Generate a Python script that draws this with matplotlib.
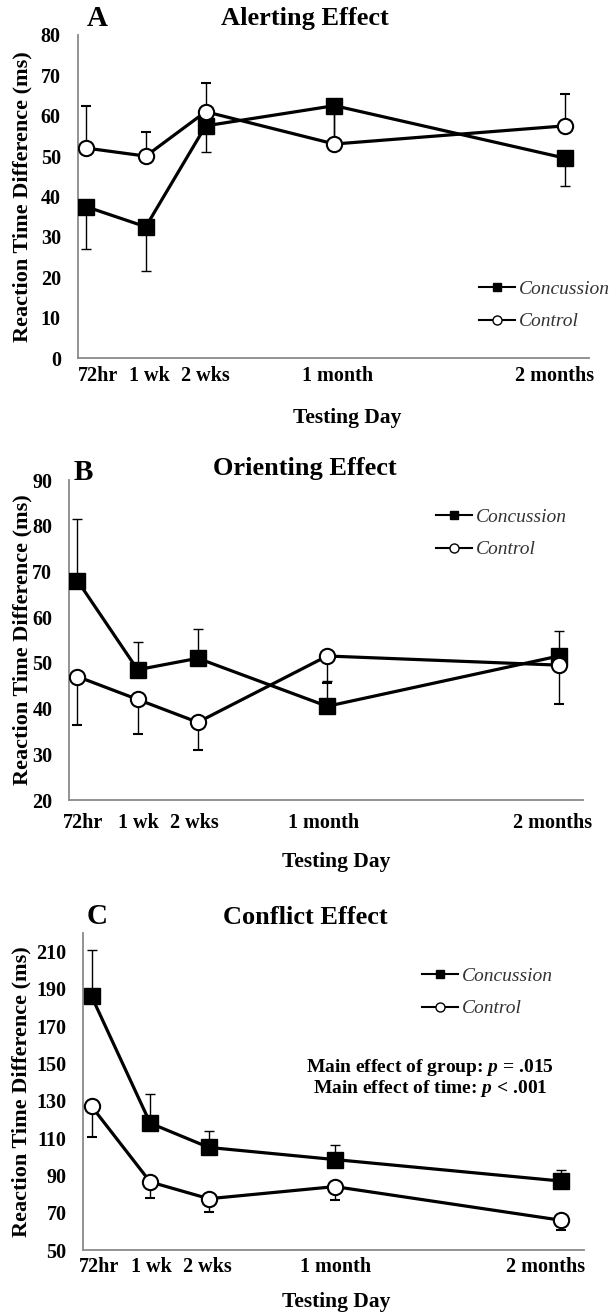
import matplotlib
matplotlib.use('Agg')
import matplotlib.pyplot as plt
import matplotlib.transforms as mtransforms
from matplotlib.lines import Line2D

plt.rcParams['font.family'] = ['Liberation Serif', 'DejaVu Serif']
plt.rcParams['font.weight'] = 'bold'
plt.rcParams['mathtext.fontset'] = 'custom'
plt.rcParams['mathtext.it'] = 'Liberation Serif:italic:bold'
plt.rcParams['mathtext.rm'] = 'Liberation Serif:bold'

# testing days, placed on the time axis roughly in weeks
days = ['72hr', '1 wk', '2 wks', '1 month', '2 months']
day_pos = [0, 1, 2, 4.15, 8]

# A - alerting effect (concussion bars go down, control bars go up)
alert_conc = [37.5, 32.5, 57.5, 62.5, 49.5]
alert_conc_err = [10.5, 11, 6.5, 8.5, 7]
alert_ctrl = [52, 50, 61, 53, 57.5]
alert_ctrl_err = [10.5, 6, 7, 8.5, 8]

# B - orienting effect (concussion bars go up, control bars go down)
orient_conc = [68, 48.5, 51, 40.5, 51.5]
orient_conc_err = [13.5, 6, 6.5, 5.5, 5.5]
orient_ctrl = [47, 42, 37, 51.5, 49.5]
orient_ctrl_err = [10.5, 7.5, 6, 6, 8.5]

# C - conflict effect (concussion bars go up, control bars go down)
conf_conc = [186, 118, 105, 98.5, 87]
conf_conc_err = [25, 15.5, 9, 8, 6]
conf_ctrl = [127, 86.5, 77.5, 84, 66]
conf_ctrl_err = [16.5, 8.5, 7, 7, 5.5]

W, H = 612, 1315
fig = plt.figure(figsize=(W / 100, H / 100), dpi=100)


def px_box(l, t, r, b):
    return [l / W, 1 - b / H, (r - l) / W, (b - t) / H]


def fx(x, y):
    return x / W, 1 - y / H


def panel(box, letter, title, conc, conc_err, ctrl, ctrl_err, conc_up,
          ylim, yticks, tick_pad, lab_nudge, leg_xy, xlab_xy, ylab_x,
          title_y, letter_xy):
    l, t, r, b = box
    ax = fig.add_axes(px_box(l, t, r, b))
    zeros = [0] * len(conc)
    c_yerr = [zeros, conc_err] if conc_up else [conc_err, zeros]
    k_yerr = [ctrl_err, zeros] if conc_up else [zeros, ctrl_err]
    ax.errorbar(day_pos, conc, yerr=c_yerr, color='black', lw=2.3,
                marker='s', ms=12, mfc='black', mec='black',
                ecolor='black', elinewidth=1, capsize=3.5, capthick=1,
                zorder=3)
    ax.errorbar(day_pos, ctrl, yerr=k_yerr, color='black', lw=2.3,
                marker='o', ms=11, mfc='white', mec='black', mew=1.5,
                ecolor='black', elinewidth=1, capsize=3.5, capthick=1,
                zorder=4)
    ax.set_xlim(-0.14, 8.4)
    ax.set_ylim(*ylim)
    ax.set_yticks(yticks)
    ax.set_xticks(day_pos)
    ax.set_xticklabels(days)
    for s in ['top', 'right']:
        ax.spines[s].set_visible(False)
    for s in ['left', 'bottom']:
        ax.spines[s].set_color('#8a8a8a')
        ax.spines[s].set_linewidth(1.3)
    ax.tick_params(axis='both', length=0, labelsize=14.5)
    ax.tick_params(axis='y', pad=12)
    ax.tick_params(axis='x', pad=tick_pad)
    for lab, dx in zip(ax.get_xticklabels(), lab_nudge):
        lab.set_transform(lab.get_transform() + mtransforms.ScaledTranslation(
            dx / 100, 0, fig.dpi_scale_trans))

    handles = [
        Line2D([], [], color='black', lw=1.5, marker='s', ms=6, mfc='black'),
        Line2D([], [], color='black', lw=1.5, marker='o', ms=6.5,
               mfc='white', mew=1),
    ]
    lx, ly = leg_xy
    ax.legend(handles, ['Concussion', 'Control'], loc='center left',
              bbox_to_anchor=((lx - l) / (r - l), (b - ly) / (b - t)),
              frameon=False, handlelength=1.85, handletextpad=0.2,
              labelspacing=0.75, borderpad=0, borderaxespad=0,
              prop=dict(family='Liberation Serif', style='italic',
                        weight='normal', size=14),
              labelcolor='#333333')

    fig.text(*fx(*xlab_xy), 'Testing Day', ha='center', va='center',
             fontsize=15.5)
    fig.text(*fx(ylab_x, (t + b) / 2), 'Reaction Time Difference (ms)',
             ha='center', va='center', rotation=90, fontsize=16)
    fig.text(*fx(305, title_y), title, ha='center', va='center', fontsize=19)
    fig.text(*fx(*letter_xy), letter, ha='center', va='center', fontsize=21)
    return ax


panel((77.5, 35, 589, 358), 'A', 'Alerting Effect',
      alert_conc, alert_conc_err, alert_ctrl, alert_ctrl_err, False,
      (0, 80), range(0, 81, 10), 6, [12, 4, 0, 3, -10],
      (479, 305.5), (347, 418), 22, 18, (97, 18))

panel((69, 480, 583, 800), 'B', 'Orienting Effect',
      orient_conc, orient_conc_err, orient_ctrl, orient_ctrl_err, True,
      (20, 90), range(20, 91, 10), 9, [6, 1, -3, -4, -6],
      (435.6, 533.5), (336, 862), 22.7, 468, (83, 472))

panel((83.4, 933, 584, 1250), 'C', 'Conflict Effect',
      conf_conc, conf_conc_err, conf_ctrl, conf_ctrl_err, True,
      (50, 220), range(50, 211, 20), 5, [7, 1, -1, 1, -15],
      (422, 992.5), (336, 1302), 21.7, 918, (97, 917))

fig.text(*fx(430, 1078),
         'Main effect of group: $p$ = .015\nMain effect of time: $p$ < .001',
         ha='center', va='center', fontsize=14, linespacing=1.0,
         multialignment='center')

fig.savefig('out.png', dpi=100)
